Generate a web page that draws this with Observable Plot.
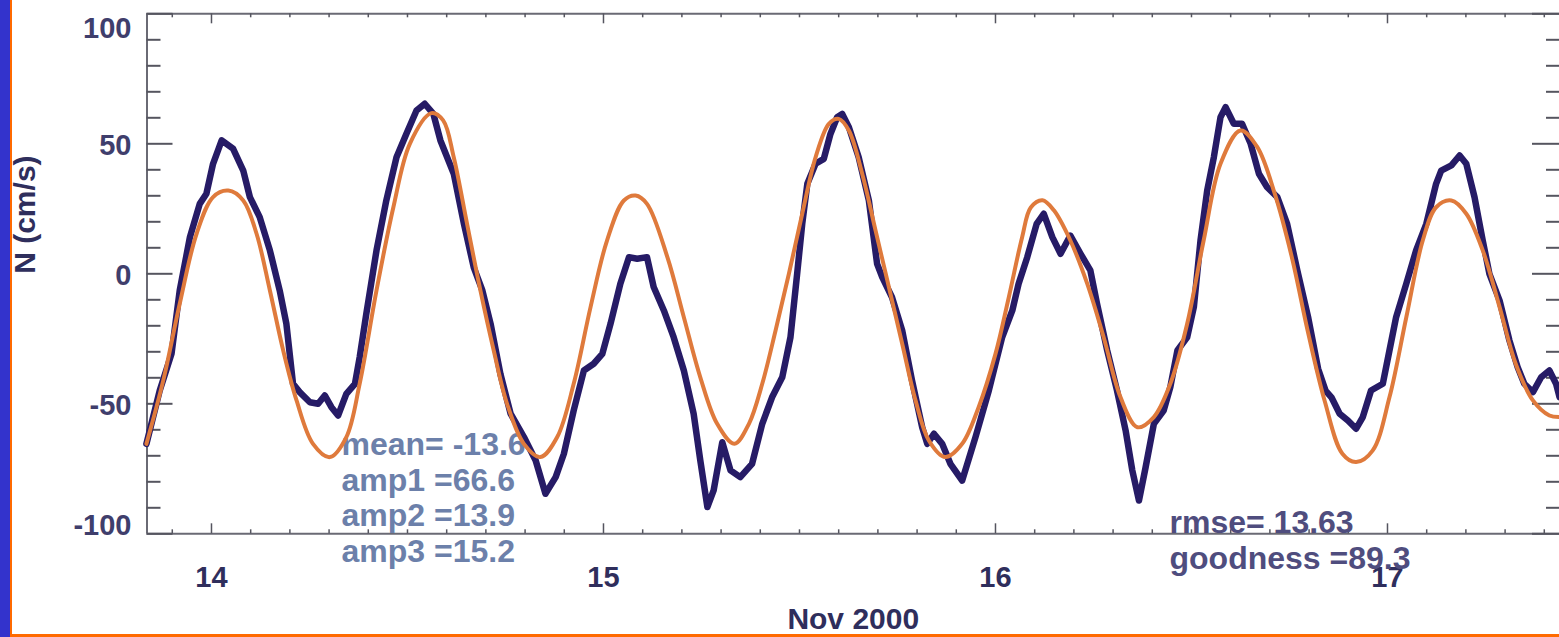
<!DOCTYPE html>
<html>
<head>
<meta charset="utf-8">
<script src="https://cdn.jsdelivr.net/npm/d3@7"></script>
<script src="https://cdn.jsdelivr.net/npm/@observablehq/plot@0.6"></script>
<style>
  html, body { margin: 0; padding: 0; background: #ffffff; overflow: hidden; }
  #wrap { position: relative; width: 1559px; height: 637px; background: #ffffff; }
  #chart svg { display: block; }
  .deco { position: absolute; }
</style>
</head>
<body>
<div id="wrap">
  <div id="chart"></div>
  <div class="deco" style="left:0;top:0;width:10px;height:637px;background:#3333cc"></div>
  <div class="deco" style="left:10px;top:0;width:2px;height:637px;background:#ff6a00"></div>
  <div class="deco" style="left:10px;top:634px;width:1549px;height:3px;background:#ff6a00"></div>
</div>
<script>
// ---- data (time in days of Nov 2000, velocity N in cm/s) ----
const blueDay = [13.834,13.868,13.898,13.919,13.945,13.970,13.987,14.004,14.026,14.055,14.081,14.098,14.123,14.149,14.174,14.191,14.208,14.225,14.251,14.272,14.289,14.306,14.323,14.344,14.366,14.378,14.395,14.421,14.446,14.472,14.497,14.523,14.544,14.566,14.584,14.618,14.644,14.669,14.691,14.712,14.737,14.763,14.797,14.827,14.852,14.878,14.899,14.924,14.950,14.975,14.997,15.018,15.043,15.065,15.086,15.111,15.128,15.154,15.179,15.205,15.230,15.247,15.265,15.281,15.303,15.324,15.349,15.379,15.405,15.430,15.456,15.477,15.494,15.507,15.520,15.541,15.562,15.579,15.596,15.609,15.626,15.651,15.677,15.698,15.711,15.736,15.762,15.787,15.813,15.826,15.843,15.864,15.885,15.915,15.949,15.983,16.017,16.043,16.059,16.081,16.105,16.123,16.145,16.166,16.191,16.217,16.242,16.259,16.285,16.310,16.332,16.349,16.366,16.383,16.404,16.429,16.446,16.464,16.489,16.506,16.523,16.540,16.557,16.574,16.587,16.608,16.629,16.651,16.672,16.693,16.719,16.744,16.770,16.798,16.823,16.842,16.857,16.878,16.899,16.920,16.937,16.958,16.988,17.005,17.022,17.048,17.073,17.099,17.124,17.137,17.163,17.184,17.201,17.222,17.243,17.260,17.286,17.311,17.332,17.349,17.371,17.392,17.413,17.430,17.439];
const blueVel = [-65.4,-44.9,-30.8,-6.4,14.1,26.9,30.8,42.3,51.3,48.1,39.7,29.5,21.8,9.0,-6.4,-19.2,-42.3,-45.5,-49.4,-50.0,-46.8,-51.3,-54.5,-46.2,-42.3,-32.1,-15.4,9.0,28.2,44.8,53.8,62.8,65.4,61.5,51.3,38.5,19.2,2.5,-6.4,-19.2,-38.5,-53.8,-62.8,-71.8,-84.6,-78.2,-69.2,-52.6,-37.2,-34.6,-30.8,-19.2,-3.8,6.4,5.8,6.4,-5.1,-14.1,-24.4,-37.2,-53.8,-71.8,-89.7,-83.3,-64.8,-75.6,-78.2,-73.1,-57.7,-47.5,-39.8,-24.4,0,19.2,34.6,42.3,44.2,53.8,60.2,61.5,56.4,44.8,28.2,3.8,-1.3,-9.0,-21.8,-41.0,-59.0,-65.4,-61.5,-65.4,-73.1,-79.5,-62.8,-44.9,-24.4,-14.1,-3.8,6.4,19.2,23.1,14.1,7.7,14.7,7.7,1.3,-11.5,-29.5,-44.9,-60.3,-75.6,-87.2,-74.4,-57.7,-52.6,-43.6,-29.5,-24.4,-12.8,12.8,32.0,44.8,60.2,64.1,57.7,57.7,50.0,38.5,33.3,29.5,19.2,1.3,-17.0,-36.5,-44.9,-47.5,-53.8,-56.4,-59.6,-55.1,-44.9,-42.3,-29.5,-16.7,-3.8,9.0,19.2,34.6,39.7,41.7,45.5,42.3,29.5,12.8,0,-10.3,-25.6,-35.9,-42.3,-45.5,-39.8,-37.2,-42.3,-47.5];

const fitDay = [13.834,13.877,13.919,13.962,14.004,14.043,14.081,14.115,14.149,14.183,14.217,14.259,14.302,14.344,14.378,14.421,14.464,14.506,14.561,14.591,14.618,14.652,14.686,14.720,14.754,14.797,14.839,14.882,14.924,14.967,15.009,15.052,15.082,15.111,15.163,15.205,15.247,15.290,15.334,15.371,15.405,15.439,15.473,15.507,15.541,15.575,15.600,15.626,15.660,15.694,15.728,15.762,15.796,15.830,15.872,15.915,15.957,16.000,16.034,16.068,16.090,16.120,16.149,16.191,16.234,16.276,16.319,16.362,16.404,16.446,16.489,16.531,16.574,16.625,16.668,16.712,16.755,16.798,16.840,16.885,16.920,16.962,17.005,17.048,17.090,17.124,17.163,17.201,17.243,17.286,17.327,17.371,17.413,17.439];
const fitVel = [-65.4,-41.0,-11.5,15.4,29.5,32.0,28.2,15.4,-6.4,-29.5,-48.7,-65.4,-70.5,-62.8,-42.3,-6.4,25.6,50.0,61.8,59.0,44.8,19.2,-6.4,-29.5,-50.0,-65.4,-70.5,-62.8,-42.3,-12.8,12.8,28.2,30.1,26.9,6.4,-16.7,-39.8,-57.7,-65.4,-57.7,-42.3,-21.8,0,23.1,44.8,57.7,59.6,55.1,38.5,16.7,-5.1,-26.9,-48.7,-64.1,-70.5,-65.4,-51.3,-30.8,-9.0,14.1,25.5,28.3,24.4,12.8,-3.8,-24.4,-47.5,-59.0,-55.1,-42.3,-19.2,12.8,42.3,55.1,48.7,31.0,7.0,-23.0,-49.0,-69.2,-72.4,-68.0,-47.5,-16.7,12.8,25.6,28.2,23.1,9.0,-12.8,-34.6,-48.7,-54.5,-55.1];

const xDomain = [13.8355, 17.4388];
const yDomain = [-100, 100];
const xMajorTicks = [14, 15, 16, 17];
const xTickLabels = ["14", "15", "16", "17"];
const yMajorTicks = [-100, -50, 0, 50, 100];
const yTickLabels = ["-100", "-50", "0", "50", "100"];
const xMinorTicks = d3.range(139, 175).filter(i => i % 10 !== 0).map(i => i / 10);
const yMinorTicks = d3.range(-90, 100, 10).filter(v => v % 50 !== 0);
const yAxisTitle = ["N (cm/s)"];
const xAxisTitle = ["Nov 2000"];
const statsLeft = ["mean= -13.6", "amp1 =66.6", "amp2 =13.9", "amp3 =15.2"];
const statsRight = ["rmse= 13.63", "goodness =89.3"];

// ---- tables ----
const observed = blueDay.map((t, i) => ({t, v: blueVel[i]}));
const fitted = fitDay.map((t, i) => ({t, v: fitVel[i]}));
const xLabelRows = xMajorTicks.map((t, i) => ({t, label: xTickLabels[i]}));
const yLabelRows = yMajorTicks.map((v, i) => ({v, label: yTickLabels[i]}));

// ---- layout ----
const W = 1559, H = 637;
const mL = 146.5, mR = 0, mT = 13.3, mB = 103.7;
const fW = W - mL - mR, fH = H - mT - mB;
const axisColor = "#6a6a74";
const tickColor = "#55555f";
const font = "'Liberation Sans', Arial, Helvetica, sans-serif";

const chart = Plot.plot({
  width: W, height: H,
  marginLeft: mL, marginRight: mR, marginTop: mT, marginBottom: mB,
  x: {domain: xDomain, axis: null},
  y: {domain: yDomain, axis: null},
  style: {background: "transparent", fontFamily: font, overflow: "visible"},
  marks: [
    // frame
    Plot.ruleY(yDomain, {y: d => d, stroke: axisColor, strokeWidth: 2}),
    Plot.ruleX([xDomain[0]], {x: d => d, stroke: axisColor, strokeWidth: 2}),
    // y ticks (left + right, inward)
    Plot.ruleY(yMinorTicks, {y: d => d, insetRight: fW - 14, stroke: tickColor, strokeWidth: 2}),
    Plot.ruleY(yMajorTicks, {y: d => d, insetRight: fW - 26, stroke: tickColor, strokeWidth: 2}),
    Plot.ruleY(yMinorTicks, {y: d => d, insetLeft: fW - 13, stroke: tickColor, strokeWidth: 2}),
    Plot.ruleY(yMajorTicks, {y: d => d, insetLeft: fW - 27, stroke: tickColor, strokeWidth: 2}),
    // x ticks (bottom + top, inward)
    Plot.ruleX(xMinorTicks, {x: d => d, insetTop: fH - 4, stroke: tickColor, strokeWidth: 1.5}),
    Plot.ruleX(xMajorTicks, {x: d => d, insetTop: fH - 10, stroke: tickColor, strokeWidth: 1.5}),
    Plot.ruleX(xMinorTicks, {x: d => d, insetBottom: fH - 4, stroke: tickColor, strokeWidth: 1.5}),
    Plot.ruleX(xMajorTicks, {x: d => d, insetBottom: fH - 10, stroke: tickColor, strokeWidth: 1.5}),
    // y tick labels
    Plot.text(yLabelRows.filter(d => Math.abs(d.v) < 100), {y: "v", text: "label", frameAnchor: "left", lineAnchor: "middle", textAnchor: "end", dx: -15.5, dy: 2, fontSize: 29, fontWeight: "bold", fill: "#3f3e6c"}),
    Plot.text(yLabelRows.filter(d => d.v === 100), {y: "v", text: "label", frameAnchor: "left", lineAnchor: "middle", textAnchor: "end", dx: -15.5, dy: 15, fontSize: 29, fontWeight: "bold", fill: "#3f3e6c"}),
    Plot.text(yLabelRows.filter(d => d.v === -100), {y: "v", text: "label", frameAnchor: "left", lineAnchor: "middle", textAnchor: "end", dx: -15.5, dy: -8, fontSize: 29, fontWeight: "bold", fill: "#3f3e6c"}),
    // x tick labels
    Plot.text(xLabelRows, {x: "t", text: "label", frameAnchor: "bottom", lineAnchor: "middle", dy: 44, fontSize: 29, fontWeight: "bold", fill: "#2f2e5c"}),
    // axis titles
    Plot.text(yAxisTitle, {text: d => d, frameAnchor: "left", lineAnchor: "middle", dx: -121.5, rotate: -90, fontSize: 30, fontWeight: "bold", fill: "#2f2e5c"}),
    Plot.text(xAxisTitle, {text: d => d, frameAnchor: "bottom", lineAnchor: "middle", dy: 85.5, fontSize: 30, fontWeight: "bold", fill: "#2f2e5c"}),
    // fit statistics
    Plot.text([statsLeft.join("\n")], {text: d => d, frameAnchor: "top-left", dx: 341 - mL, dy: 561.5 - mT, lineAnchor: "bottom", textAnchor: "start", lineHeight: 1.11, fontSize: 32, fontWeight: "bold", fill: "#6c80aa"}),
    Plot.text([statsRight.join("\n")], {text: d => d, frameAnchor: "top-left", dx: 1169 - mL, dy: 568 - mT, lineAnchor: "bottom", textAnchor: "start", lineHeight: 1.1, fontSize: 32, fontWeight: "bold", fill: "#4f4d7e"}),
    // series
    Plot.line(observed, {x: "t", y: "v", stroke: "#261b66", strokeWidth: 6.5, strokeLinejoin: "round", strokeLinecap: "round"}),
    Plot.line(fitted, {x: "t", y: "v", curve: "catmull-rom", stroke: "#df7a3c", strokeWidth: 4})
  ]
});
document.getElementById("chart").appendChild(chart);
</script>
</body>
</html>
